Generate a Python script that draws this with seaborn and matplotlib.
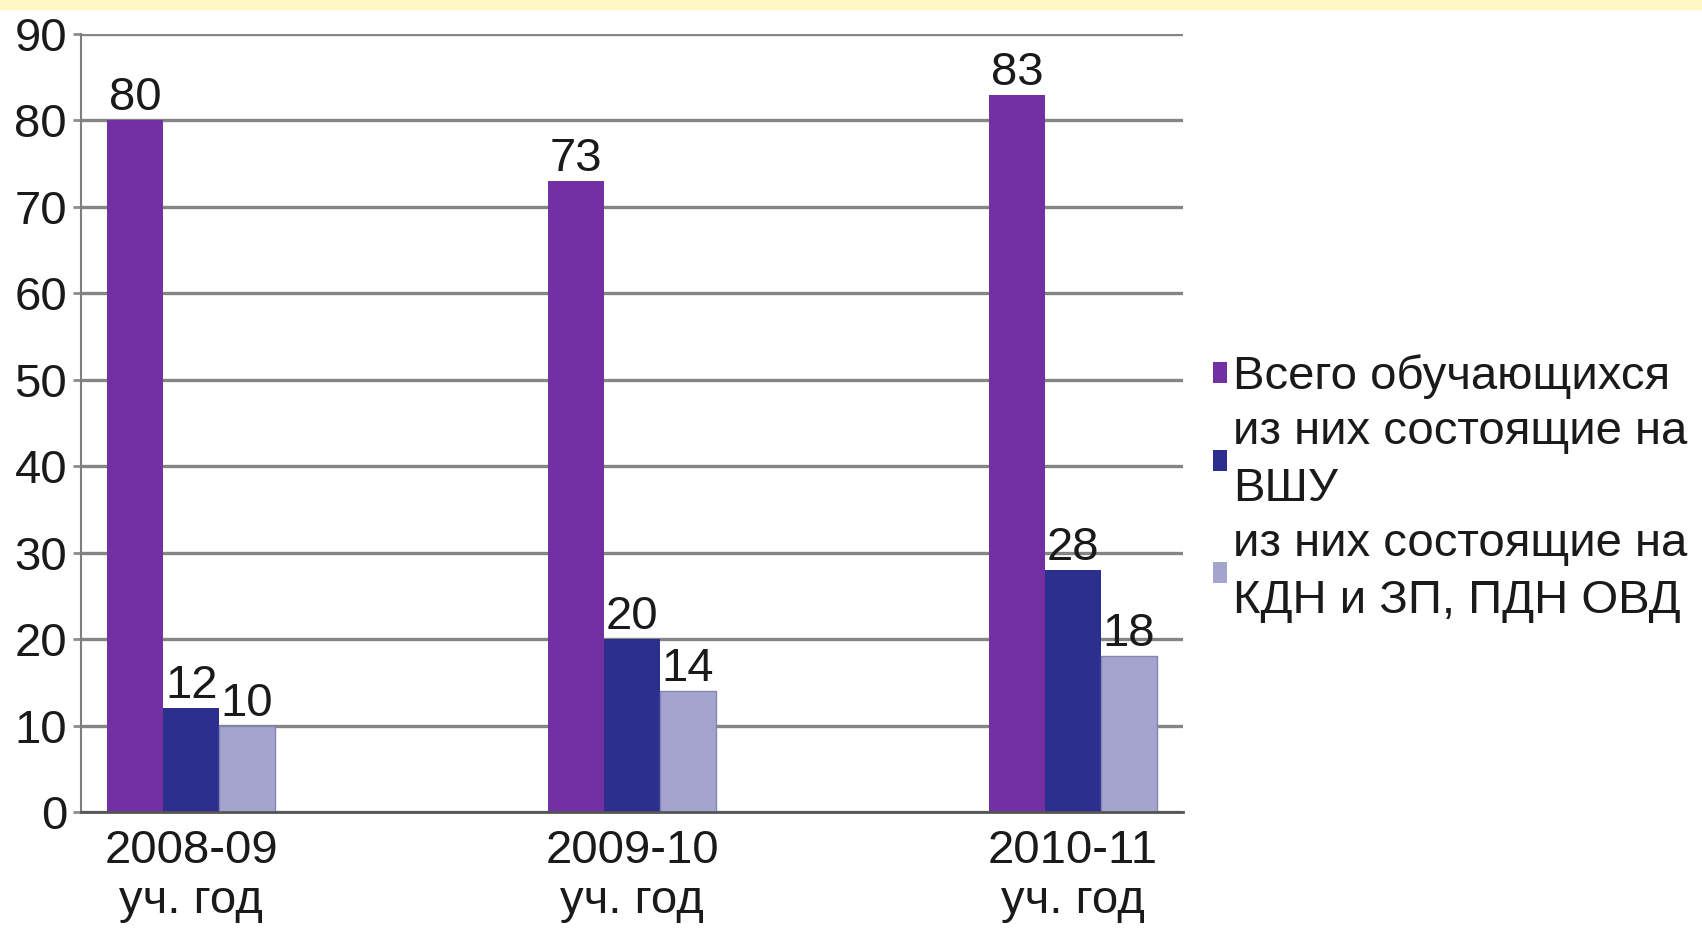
import pandas as pd
import seaborn as sns
import matplotlib.pyplot as plt
import numpy as np
from matplotlib.patches import Patch, Rectangle

# Chart data
years = ["2008-09\nуч. год", "2009-10\nуч. год", "2010-11\nуч. год"]
series = ["Всего обучающихся",
          "из них состоящие на\nВШУ",
          "из них состоящие на\nКДН и ЗП, ПДН ОВД"]
total = [80, 73, 83]
vshu = [12, 20, 28]
kdn = [10, 14, 18]
colors = ["#7230A2", "#2C2F8E", "#A4A4CE"]

df = pd.DataFrame({
    "year": years * 3,
    "series": [s for s in series for _ in years],
    "value": total + vshu + kdn,
})

# empty slots between the years, like in the original chart
order = [years[0], " ", years[1], "  ", years[2]]

sns.set_style("white")
plt.rcParams["font.family"] = ["Liberation Sans", "DejaVu Sans"]
plt.rcParams["font.size"] = 34

fig = plt.figure(figsize=(17.02, 9.36), dpi=100)
ax = fig.add_axes([81 / 1702, 1 - 812 / 936, (1183 - 81) / 1702, (812 - 34) / 936])

# yellow band on top
fig.patches.append(Rectangle((0, 1 - 9 / 936), 1, 9 / 936, transform=fig.transFigure,
                             color="#FFF6C4", zorder=0))

sns.barplot(data=df, x="year", y="value", hue="series", order=order, hue_order=series,
            palette=colors, saturation=1, width=0.76, gap=0, legend=False,
            linewidth=0, edgecolor="none", ax=ax)

for bar in ax.containers[2]:
    bar.set_edgecolor("#8585B5")
    bar.set_linewidth(1)

for cont in ax.containers:
    ax.bar_label(cont, fmt="%d", padding=0, fontsize=34, color="#1A1A1A")

ax.set_xlim(-0.5, 4.5)
ax.set_ylim(0, 90)
ax.set_yticks(range(0, 91, 10))
ax.yaxis.grid(True, color="#858585", linewidth=2.4)
ax.set_axisbelow(True)

ax.set_xticks(np.arange(-0.5, 5, 1))
ax.set_xticklabels([])
ax.set_xticks([0, 2, 4], minor=True)
ax.set_xticklabels(years, minor=True, color="#1A1A1A")
ax.tick_params(axis="x", which="major", length=8, width=1.5, color="#555555", direction="out")
ax.tick_params(axis="x", which="minor", length=0, pad=12)
ax.tick_params(axis="y", length=6, width=2, color="#8C8C8C", pad=4, labelcolor="#1A1A1A",
               left=True)

for side in ["top", "right"]:
    ax.spines[side].set_visible(False)
ax.spines["left"].set_color("#7F7F7F")
ax.spines["left"].set_linewidth(1.5)
ax.spines["bottom"].set_color("#555555")
ax.spines["bottom"].set_linewidth(2)

ax.set_xlabel("")
ax.set_ylabel("")

handles = [Patch(facecolor=c, edgecolor="none") for c in colors]
leg = fig.legend(handles, series, loc="center left", bbox_to_anchor=(1213 / 1702, 1 - 489 / 936),
                 frameon=False, fontsize=34, handlelength=0.3, handleheight=0.3,
                 handletextpad=0.12, labelspacing=0.22, borderpad=0, borderaxespad=0,
                 labelcolor="#1A1A1A")
for t in leg.get_texts():
    t.set_linespacing(1.4)

plt.savefig("out.png", dpi=100)
